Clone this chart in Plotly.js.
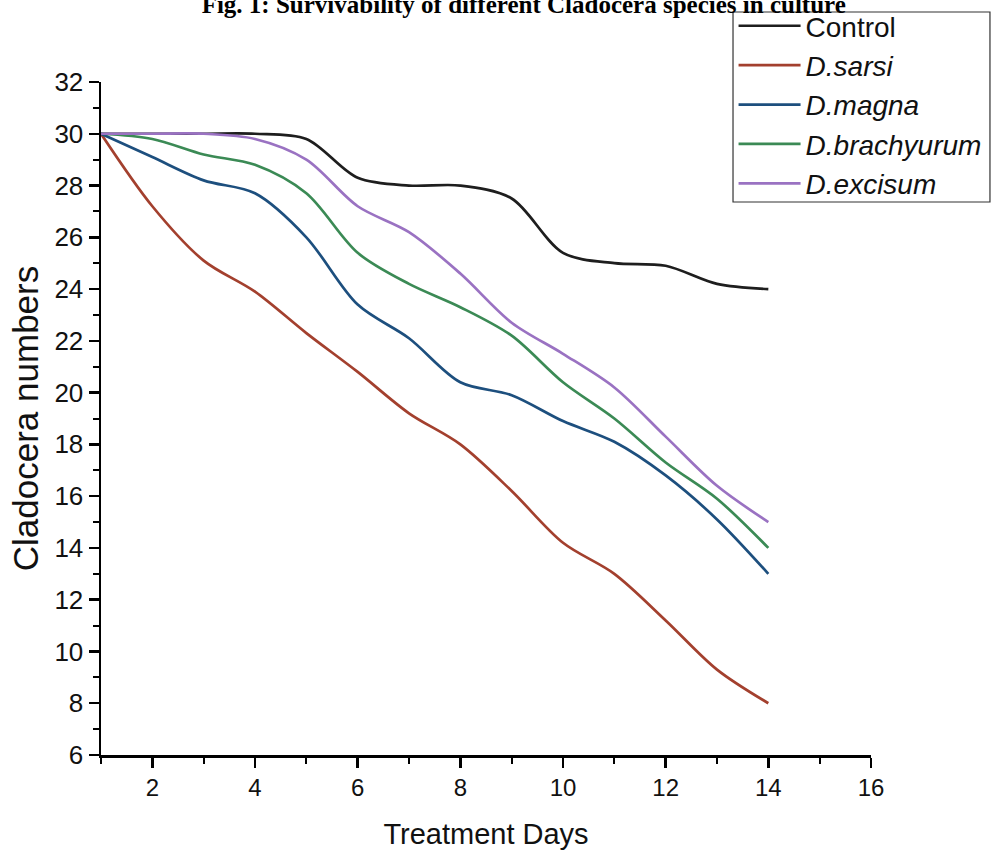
<!DOCTYPE html>
<html>
<head>
<meta charset="utf-8">
<script src="https://cdn.plot.ly/plotly-3.0.1.min.js"></script>
<style>html,body{margin:0;padding:0;background:#fff;}#chart{width:991px;height:855px;}</style>
</head>
<body>
<div id="chart"></div>
<script>
// Treatment days
const days = [1, 2, 3, 4, 5, 6, 7, 8, 9, 10, 11, 12, 13, 14];
// Series (Cladocera numbers)
const control     = [30, 30, 30, 30, 29.8, 28.3, 28, 28, 27.5, 25.4, 25, 24.9, 24.2, 24];
const dSarsi      = [30, 27.2, 25.1, 23.9, 22.3, 20.8, 19.2, 18.0, 16.2, 14.2, 13.0, 11.2, 9.3, 8.0];
const dMagna      = [30, 29.1, 28.2, 27.7, 26.0, 23.4, 22.1, 20.4, 19.9, 18.9, 18.1, 16.8, 15.1, 13];
const dBrachyurum = [30, 29.8, 29.2, 28.8, 27.7, 25.4, 24.2, 23.3, 22.2, 20.4, 19.0, 17.3, 15.9, 14];
const dExcisum    = [30, 30, 30, 29.8, 29.0, 27.2, 26.2, 24.6, 22.7, 21.5, 20.2, 18.3, 16.4, 15];

const seriesNames = ['Control', '<i>D.sarsi</i>', '<i>D.magna</i>', '<i>D.brachyurum</i>', '<i>D.excisum</i>'];
const seriesData = [control, dSarsi, dMagna, dBrachyurum, dExcisum];
const seriesColors = ['#1e1e1e', '#a3402e', '#1d4f7e', '#3b8a55', '#9a72c2'];

const traces = seriesData.map((ys, i) => ({
  x: days, y: ys, type: 'scatter', mode: 'lines', name: seriesNames[i],
  line: {color: seriesColors[i], width: 2.7, shape: 'spline', smoothing: 0.9}
}));

const sans = 'Liberation Sans, Arial, sans-serif';

const layout = {
  width: 991, height: 855,
  margin: {l: 101, r: 120, t: 82, b: 100, autoexpand: false},
  paper_bgcolor: '#fff', plot_bgcolor: '#fff',
  showlegend: true,
  title: {
    text: '<b>Fig. 1: Survivability of different Cladocera species in culture</b>',
    font: {family: 'Liberation Serif, Times New Roman, serif', size: 25, color: '#000'},
    x: 0.549, xanchor: 'center', xref: 'paper',
    y: 0.9947, yref: 'container', yanchor: 'middle'
  },
  legend: {
    x: 0.8215, xanchor: 'left', y: 1.1203, yanchor: 'top',
    borderwidth: 0, bgcolor: 'rgba(0,0,0,0)',
    font: {family: sans, size: 28, color: '#111'},
    itemwidth: 62, tracegroupgap: 0
  },
  // legend frame
  shapes: [{
    type: 'rect', xref: 'paper', yref: 'paper',
    x0: 0.8208, x1: 1.1545, y0: 0.8217, y1: 1.104,
    line: {color: '#333', width: 1.2}, fillcolor: 'rgba(0,0,0,0)', layer: 'above'
  }],
  xaxis: {
    range: [1, 16], tick0: 2, dtick: 2,
    showline: true, linecolor: '#000', linewidth: 2.5,
    ticks: 'outside', ticklen: 10, tickwidth: 2.5, tickcolor: '#000',
    minor: {dtick: 1, tick0: 1, ticks: 'outside', ticklen: 6, tickwidth: 2, tickcolor: '#000'},
    showgrid: false, zeroline: false,
    tickfont: {family: sans, size: 24, color: '#111'},
    title: {text: 'Treatment Days', font: {family: sans, size: 29, color: '#111'}, standoff: 24}
  },
  yaxis: {
    range: [6, 32], tick0: 6, dtick: 2,
    showline: true, linecolor: '#000', linewidth: 2.5,
    ticks: 'outside', ticklen: 10, tickwidth: 2.5, tickcolor: '#000',
    minor: {dtick: 1, tick0: 6, ticks: 'outside', ticklen: 6, tickwidth: 2, tickcolor: '#000'},
    showgrid: false, zeroline: false,
    tickfont: {family: sans, size: 26, color: '#111'},
    title: {text: 'Cladocera numbers', font: {family: sans, size: 35, color: '#111'}, standoff: 5}
  }
};

Plotly.newPlot('chart', traces, layout, {displayModeBar: false, staticPlot: true});
</script>
</body>
</html>
